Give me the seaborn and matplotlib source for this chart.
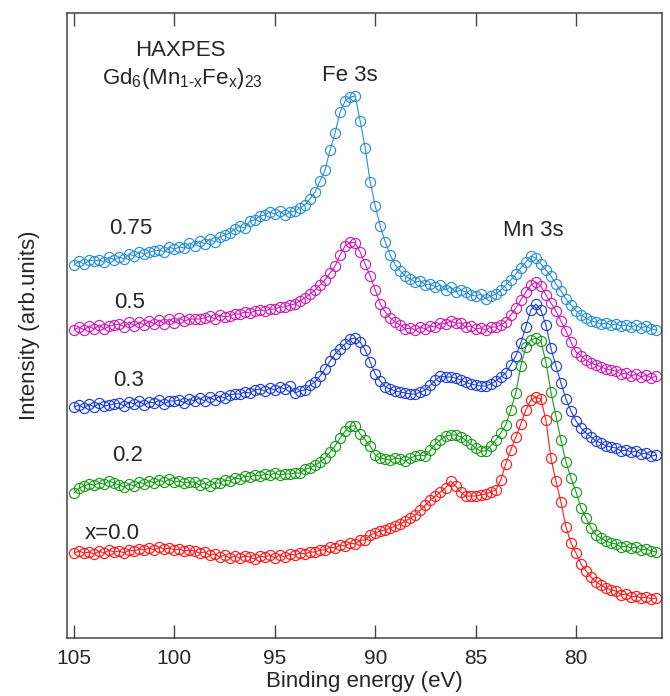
import numpy as np
import matplotlib
matplotlib.use("Agg")
import matplotlib.pyplot as plt
import seaborn as sns

# binding energy grid (eV), 105 -> 76 in 0.25 eV steps
energy = np.linspace(105.0, 76.0, 117)

# spectra (arb. units, already vertically offset)
x075 = [372, 376, 373, 377, 376, 377, 375, 380, 377, 380, 378, 383,
        381, 385, 383, 385, 386, 387, 385, 390, 388, 390, 389, 394,
        391, 396, 393, 398, 395, 400, 402, 404, 408, 411, 409, 416,
        417, 421, 422, 425, 423, 426, 422, 425, 426, 429, 432, 438,
        445, 456, 467, 487, 504, 525, 536, 540, 541, 516, 489, 455,
        431, 411, 395, 382, 372, 366, 361, 358, 355, 356, 352, 353,
        350, 352, 347, 350, 345, 347, 345, 342, 341, 343, 338, 341,
        343, 347, 352, 357, 363, 369, 375, 381, 379, 373, 367, 361,
        353, 346, 338, 332, 326, 322, 319, 316, 315, 313, 314, 312,
        313, 311, 312, 310, 312, 309, 311, 308, 307]
x050 = [307, 310, 307, 311, 308, 312, 308, 311, 312, 313, 310, 315,
        311, 315, 312, 316, 313, 317, 313, 318, 314, 319, 316, 318,
        318, 318, 319, 321, 318, 322, 320, 321, 323, 323, 325, 324,
        326, 327, 326, 328, 328, 330, 330, 332, 333, 336, 339, 343,
        347, 352, 357, 364, 371, 382, 391, 395, 394, 385, 373, 361,
        347, 333, 325, 319, 315, 312, 308, 309, 307, 310, 308, 311,
        310, 314, 313, 316, 314, 314, 310, 311, 308, 309, 307, 310,
        310, 312, 315, 322, 329, 337, 345, 352, 355, 351, 342, 334,
        326, 316, 306, 295, 285, 281, 277, 274, 272, 270, 268, 267,
        266, 263, 264, 261, 263, 260, 262, 259, 261]
x030 = [230, 232, 229, 233, 230, 234, 231, 232, 233, 234, 231, 235,
        233, 236, 232, 235, 234, 237, 233, 236, 236, 237, 234, 238,
        236, 239, 236, 240, 237, 241, 239, 242, 243, 243, 245, 244,
        247, 248, 246, 249, 247, 250, 248, 251, 244, 246, 247, 252,
        255, 261, 268, 276, 283, 288, 293, 298, 299, 295, 287, 275,
        263, 256, 250, 248, 246, 245, 244, 243, 243, 245, 247, 252,
        257, 261, 260, 260, 259, 257, 255, 253, 252, 251, 251, 253,
        256, 260, 264, 272, 281, 294, 310, 327, 333, 327, 312, 289,
        271, 254, 238, 226, 216, 209, 204, 200, 196, 194, 191, 190,
        189, 186, 187, 185, 186, 183, 184, 181, 182]
x020 = [144, 149, 151, 153, 152, 154, 153, 156, 154, 152, 150, 153,
        151, 155, 153, 156, 154, 157, 155, 158, 155, 156, 154, 155,
        155, 152, 154, 151, 154, 154, 157, 156, 159, 158, 161, 160,
        162, 161, 163, 162, 164, 162, 163, 163, 164, 164, 168, 169,
        172, 175, 179, 185, 191, 199, 206, 211, 211, 203, 197, 191,
        182, 179, 178, 177, 179, 178, 176, 179, 181, 182, 181, 187,
        193, 197, 201, 202, 202, 200, 197, 193, 189, 186, 186, 191,
        197, 204, 212, 227, 244, 271, 290, 297, 299, 296, 275, 245,
        221, 197, 175, 159, 145, 129, 119, 109, 102, 99, 96, 94,
        93, 90, 91, 89, 90, 87, 88, 86, 85]
x000 = [84, 86, 84, 85, 83, 86, 84, 87, 85, 86, 84, 87,
        86, 88, 87, 89, 87, 90, 88, 89, 87, 88, 86, 87,
        86, 84, 85, 82, 83, 80, 82, 79, 81, 79, 81, 80,
        78, 81, 80, 82, 79, 82, 80, 83, 82, 84, 83, 85,
        85, 87, 87, 90, 89, 92, 91, 94, 93, 97, 97, 102,
        104, 106, 107, 109, 111, 113, 116, 119, 122, 127, 132, 137,
        141, 145, 149, 156, 151, 145, 141, 141, 141, 142, 143, 145,
        147, 157, 173, 187, 200, 213, 227, 237, 240, 238, 217, 179,
        156, 135, 110, 94, 84, 73, 66, 60, 55, 52, 49, 47,
        46, 42, 43, 40, 41, 39, 40, 38, 39]

spectra = [x075, x050, x030, x020, x000]
colors = ["#2b8fd4", "#cc1fb4", "#1f3fd6", "#1b9b1b", "#ff1a1a"]
labels = ["0.75", "0.5", "0.3", "0.2", "x=0.0"]
label_pos = [(102.2, 409), (102.25, 335), (102.3, 257), (102.35, 182), (103.1, 104)]

sns.set_theme(style="white")
plt.rcParams['font.family'] = ['Liberation Sans', 'DejaVu Sans']
plt.rcParams['mathtext.fontset'] = 'custom'
plt.rcParams['mathtext.rm'] = 'Liberation Sans'
plt.rcParams['mathtext.it'] = 'Liberation Sans'
plt.rcParams['mathtext.default'] = 'rm'

fig = plt.figure(figsize=(6.7, 6.96), dpi=100)
ax = fig.add_axes([0.1, 0.0833, 0.888, 0.898])

for vals, col in zip(spectra, colors):
    sns.lineplot(x=energy, y=vals, color=col, marker='o', markersize=7.3,
                 markerfacecolor='none', markeredgecolor=col, markeredgewidth=0.85,
                 linewidth=0.8, errorbar=None, legend=False, ax=ax)

for lab, (xp, yp) in zip(labels, label_pos):
    ax.text(xp, yp, lab, fontsize=16, ha='center', va='center')

ax.text(99.7, 587, 'HAXPES', fontsize=16, ha='center', va='center')
ax.text(99.6, 559, r'Gd$_6$(Mn$_{1\text{-}x}$Fe$_x$)$_{23}$', fontsize=16, ha='center', va='center')
ax.text(91.26, 562, 'Fe 3s', fontsize=16, ha='center', va='center')
ax.text(82.14, 407, 'Mn 3s', fontsize=16, ha='center', va='center')

ax.set_xlim(105.35, 75.72)
ax.set_ylim(-1, 624)
ax.set_xticks([105, 100, 95, 90, 85, 80])
ax.set_yticks([])
ax.tick_params(axis='x', direction='in', length=9.5, width=1, color='#444444',
               top=True, bottom=True, labelsize=15, pad=8)
for s in ax.spines.values():
    s.set_visible(True)
    s.set_color('#444444')
    s.set_linewidth(1.1)

ax.set_xlabel('Binding energy (eV)', fontsize=16, labelpad=2)
ax.set_ylabel('Intensity (arb.units)', fontsize=16)
ax.yaxis.set_label_coords(-0.045, 0.5)

fig.savefig('out.png', dpi=100)
